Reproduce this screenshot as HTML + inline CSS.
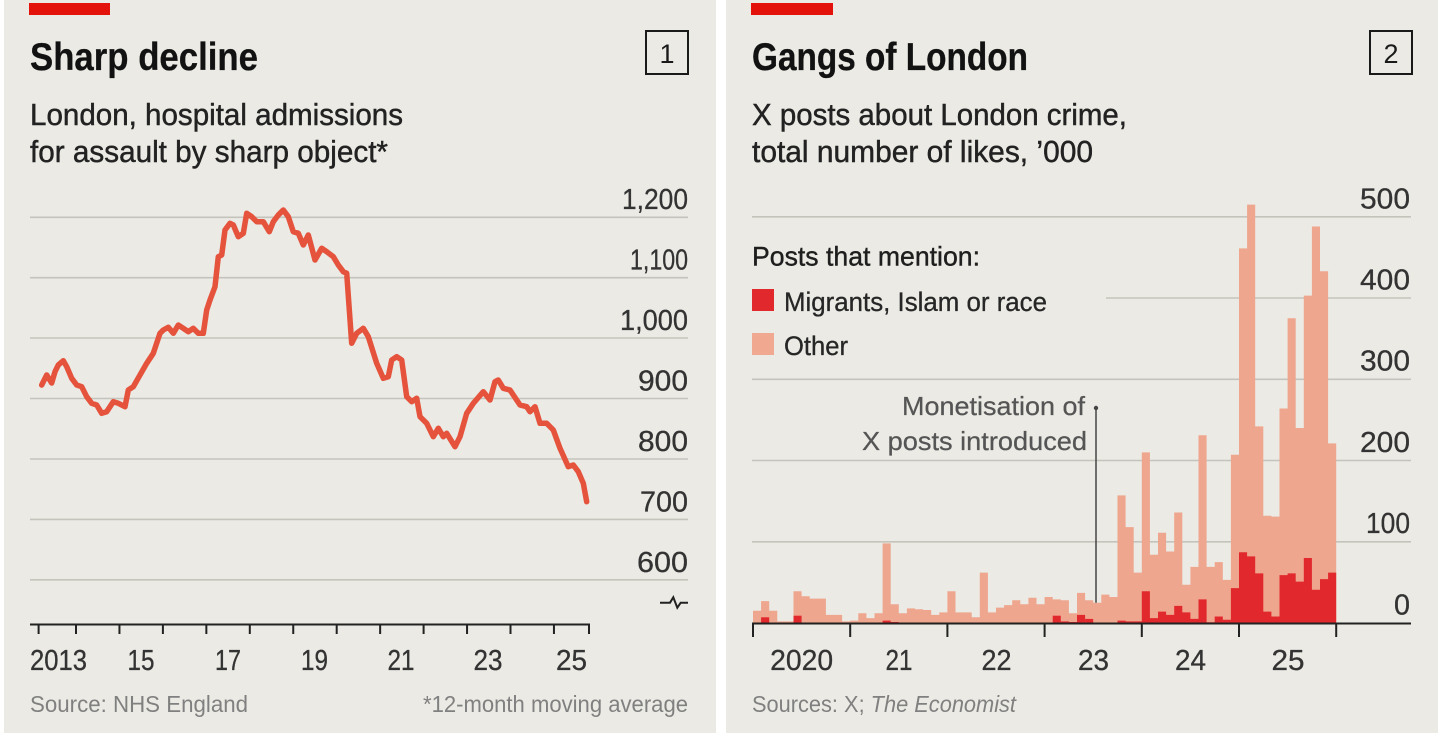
<!DOCTYPE html>
<html>
<head>
<meta charset="utf-8">
<style>
  html,body{margin:0;padding:0;background:#ffffff;}
  body{width:1438px;height:737px;overflow:hidden;}
  svg{display:block;}
</style>
</head>
<body>
<svg width="1438" height="737" viewBox="0 0 1438 737" xmlns="http://www.w3.org/2000/svg" font-family="'Liberation Sans', Arial, sans-serif">
  <!-- panels -->
  <rect x="4" y="0" width="712" height="733" fill="#ebeae4"/>
  <rect x="726" y="0" width="712" height="733" fill="#ebeae4"/>

  <!-- ================= LEFT CHART ================= -->
  <rect x="29" y="3" width="81" height="12" fill="#e3120b"/>
  <text x="30" y="70" font-size="39" font-weight="bold" fill="#121212" stroke="#121212" stroke-width="0.3" textLength="228" lengthAdjust="spacingAndGlyphs">Sharp decline</text>
  <rect x="646" y="31" width="42" height="43" fill="none" stroke="#1a1a1a" stroke-width="2"/>
  <text x="667" y="63" font-size="27" fill="#1a1a1a" text-anchor="middle">1</text>
  <g font-size="31" fill="#222" stroke="#222" stroke-width="0.45">
    <text x="30" y="125" textLength="373" lengthAdjust="spacingAndGlyphs">London, hospital admissions</text>
    <text x="30" y="162" textLength="358" lengthAdjust="spacingAndGlyphs">for assault by sharp object*</text>
  </g>

  <!-- gridlines -->
  <g stroke="#c4c3bc" stroke-width="1.6">
    <line x1="30" y1="217.3" x2="688" y2="217.3"/>
    <line x1="30" y1="277.7" x2="688" y2="277.7"/>
    <line x1="30" y1="338" x2="688" y2="338"/>
    <line x1="30" y1="398.5" x2="688" y2="398.5"/>
    <line x1="30" y1="459" x2="688" y2="459"/>
    <line x1="30" y1="519.4" x2="688" y2="519.4"/>
    <line x1="30" y1="579.8" x2="688" y2="579.8"/>
  </g>
  <!-- y labels -->
  <g font-size="29" fill="#333" stroke="#333" stroke-width="0.3" text-anchor="end">
    <text x="688" y="209" textLength="66" lengthAdjust="spacingAndGlyphs">1,200</text>
    <text x="688" y="269.5" textLength="58" lengthAdjust="spacingAndGlyphs">1,100</text>
    <text x="688" y="330" textLength="68" lengthAdjust="spacingAndGlyphs">1,000</text>
    <text x="688" y="390.5" textLength="50" lengthAdjust="spacingAndGlyphs">900</text>
    <text x="688" y="451" textLength="50" lengthAdjust="spacingAndGlyphs">800</text>
    <text x="688" y="511.5" textLength="48" lengthAdjust="spacingAndGlyphs">700</text>
    <text x="688" y="572" textLength="51" lengthAdjust="spacingAndGlyphs">600</text>
  </g>
  <!-- break symbol -->
  <path d="M660 602.7 H670 L673.3 597.3 L677.3 607.7 L680.7 602.7 H688" fill="none" stroke="#222" stroke-width="2" stroke-linejoin="miter"/>

  <!-- line series -->
  <polyline fill="none" stroke="#e5533d" stroke-width="5.5" stroke-linejoin="round" stroke-linecap="round"
    points="41.7,385 46.7,375 51.7,383 55,371.7 58.3,365 63.3,360.7 66.7,366.7 71.7,378.3 76.7,385 81.7,386.7 86.7,396.7 91.7,403.3 96.7,405 101.7,413.3 106.7,411.7 113.3,401.7 118.3,403.3 125,406.7 128.3,390 133.3,386.7 140,375 146.7,363.3 153.3,353.3 160,333.3 163.3,330 168.3,327.3 173.3,333.3 178.3,325 183.3,328.3 188.3,331.7 193.3,328.3 198.3,333.3 203.3,333.3 206.7,310 210,300 215,286.7 218.3,256.7 221.7,255 225,230 230,223.3 233.3,225 238.3,236.7 243.3,233.3 246.7,213.3 251.7,216.7 256.7,221.7 263.3,221.7 269.3,231.7 273.3,221.7 278.3,215 283.3,210 288.3,216.7 293.3,231.7 298.3,233.3 303.3,245 308.3,235 315,260 321.7,248.3 326.7,251.7 333.3,256.7 338.3,265 343.3,271.7 346.7,273.3 351.7,343.3 356.7,333.3 363.3,328.3 368.3,336.7 376.7,363.3 383.3,378.3 388.3,376.7 391.7,360 396.7,356.7 401.7,360 406.7,396.7 411.7,401.7 416.7,398.3 420,416.7 426.7,423.3 433.3,436.7 438.3,428.3 443.3,436.7 446.7,433.3 455,446.7 460,436.7 466.7,413.3 473.3,403.3 483.3,391.7 490,400 495,381.7 498.3,380 503.3,388.3 510,390 520,405 526.7,406.7 530,411.7 535,406.7 540,423.3 546.7,423.3 553.3,430 560,448.3 568.3,466.7 573.3,465 578.3,471.7 583.3,483.3 586.7,501.7"/>

  <!-- x axis -->
  <path d="M30 624.5 H590" stroke="#222" stroke-width="2" fill="none"/>
  <path d="M38.6 624 V634 M76 624 V634 M119.45 624 V634 M162.9 624 V634 M206.35 624 V634 M249.8 624 V634 M293.25 624 V634 M336.7 624 V634 M380.15 624 V634 M423.6 624 V634 M467.05 624 V634 M510.5 624 V634 M553.95 624 V634 M589 624 V634" stroke="#222" stroke-width="2" fill="none"/>
  <g font-size="29" fill="#333" stroke="#333" stroke-width="0.3">
    <text x="30" y="670" textLength="57" lengthAdjust="spacingAndGlyphs">2013</text>
    <text x="141" y="670" text-anchor="middle" textLength="27" lengthAdjust="spacingAndGlyphs">15</text>
    <text x="228" y="670" text-anchor="middle" textLength="26" lengthAdjust="spacingAndGlyphs">17</text>
    <text x="314.5" y="670" text-anchor="middle" textLength="27" lengthAdjust="spacingAndGlyphs">19</text>
    <text x="401" y="670" text-anchor="middle" textLength="27" lengthAdjust="spacingAndGlyphs">21</text>
    <text x="488" y="670" text-anchor="middle" textLength="29" lengthAdjust="spacingAndGlyphs">23</text>
    <text x="571.5" y="670" text-anchor="middle" textLength="31" lengthAdjust="spacingAndGlyphs">25</text>
  </g>
  <text x="30" y="712" font-size="23" fill="#808080" textLength="218" lengthAdjust="spacingAndGlyphs">Source: NHS England</text>
  <text x="688" y="712" font-size="23" fill="#808080" text-anchor="end" textLength="265" lengthAdjust="spacingAndGlyphs">*12-month moving average</text>

  <!-- ================= RIGHT CHART ================= -->
  <rect x="751" y="3" width="82" height="12" fill="#e3120b"/>
  <text x="752" y="70" font-size="39" font-weight="bold" fill="#121212" stroke="#121212" stroke-width="0.3" textLength="276" lengthAdjust="spacingAndGlyphs">Gangs of London</text>
  <rect x="1370" y="31" width="42" height="43" fill="none" stroke="#1a1a1a" stroke-width="2"/>
  <text x="1391" y="63" font-size="27" fill="#1a1a1a" text-anchor="middle">2</text>
  <g font-size="31" fill="#222" stroke="#222" stroke-width="0.45">
    <text x="752" y="125" textLength="375" lengthAdjust="spacingAndGlyphs">X posts about London crime,</text>
    <text x="752" y="162" textLength="341" lengthAdjust="spacingAndGlyphs">total number of likes, ’000</text>
  </g>

  <!-- gridlines -->
  <g stroke="#c4c3bc" stroke-width="1.6">
    <line x1="752" y1="216.8" x2="1411" y2="216.8"/>
    <line x1="1106" y1="298" x2="1411" y2="298"/>
    <line x1="752" y1="379.3" x2="1411" y2="379.3"/>
    <line x1="752" y1="460.5" x2="1411" y2="460.5"/>
    <line x1="752" y1="541.8" x2="1411" y2="541.8"/>
  </g>
  <!-- y labels -->
  <g font-size="29" fill="#333" stroke="#333" stroke-width="0.3" text-anchor="end">
    <text x="1410" y="208.3" textLength="50" lengthAdjust="spacingAndGlyphs">500</text>
    <text x="1410" y="289.5" textLength="50" lengthAdjust="spacingAndGlyphs">400</text>
    <text x="1410" y="370.7" textLength="50" lengthAdjust="spacingAndGlyphs">300</text>
    <text x="1410" y="451.9" textLength="50" lengthAdjust="spacingAndGlyphs">200</text>
    <text x="1410" y="533.1" textLength="44" lengthAdjust="spacingAndGlyphs">100</text>
    <text x="1410" y="614.3" textLength="16" lengthAdjust="spacingAndGlyphs">0</text>
  </g>

  <!-- legend -->
  <text x="752" y="265.5" font-size="27" fill="#1e1e1e" stroke="#1e1e1e" stroke-width="0.4" textLength="228" lengthAdjust="spacingAndGlyphs">Posts that mention:</text>
  <rect x="752" y="289" width="22" height="22" fill="#e1282d"/>
  <text x="784" y="311" font-size="27" fill="#262626" stroke="#262626" stroke-width="0.3" textLength="263" lengthAdjust="spacingAndGlyphs">Migrants, Islam or race</text>
  <rect x="752" y="333" width="22" height="22" fill="#f0a890"/>
  <text x="784" y="355" font-size="27" fill="#262626" stroke="#262626" stroke-width="0.3" textLength="64" lengthAdjust="spacingAndGlyphs">Other</text>

  <!-- bars: total (light) -->
  <path fill="#efa68e" d="M753 623 V610.8 H761.1 V601.1 H769.2 V610.8 H777.3 V621.4 H785.4 V621.4 H793.5 V591.3 H801.6 V596.2 H809.7 V598.6 H817.8 V598.6 H825.9 V614.9 H834 V614.9 H842.1 V621.4 H850.2 V620.6 H858.3 V613.25 H866.4 V618.1 H874.5 V613.25 H882.6 V543.4 H890.7 V604.3 H898.8 V613.25 H906.9 V608.4 H915 V609.2 H923.1 V610 H931.2 V614.9 H939.3 V612.4 H947.4 V591.3 H955.5 V612.4 H963.6 V612.4 H971.7 V617.3 H979.8 V572.6 H987.9 V612.4 H996 V607.6 H1004.1 V605.1 H1012.2 V600.25 H1020.3 V604.3 H1028.4 V597.8 H1036.5 V604.3 H1044.6 V597 H1052.7 V599.4 H1060.8 V600.25 H1068.9 V613.25 H1077 V592.9 H1085.1 V600.25 H1093.2 V602.7 H1101.3 V594.6 H1109.4 V597 H1117.5 V495.4 H1125.6 V527.1 H1133.7 V572.6 H1141.8 V452.4 H1149.9 V554.75 H1158 V532.8 H1166.1 V551.5 H1174.2 V512.5 H1182.3 V584.8 H1190.4 V566.9 H1198.5 V435.3 H1206.6 V566.9 H1214.7 V562.1 H1222.8 V579.9 H1230.9 V454.8 H1239 V248.4 H1247.1 V204.6 H1255.2 V426.4 H1263.3 V515.75 H1271.4 V516.6 H1279.5 V408.5 H1287.6 V318.3 H1295.7 V428 H1303.8 V295.6 H1311.9 V226.5 H1320 V271.2 H1328.1 V443.4 H1336.2 V623 Z"/>
  <!-- bars: migrants (dark) -->
  <g fill="#e1282d">
    <rect x="761.1" y="617.3" width="8.1" height="5.7"/>
    <rect x="793.5" y="615.7" width="8.1" height="7.3"/>
    <rect x="882.6" y="620.6" width="8.1" height="2.4"/>
    <rect x="890.7" y="622" width="8.1" height="1"/>
    <rect x="1052.7" y="615.7" width="8.1" height="7.3"/>
    <rect x="1060.8" y="621.4" width="8.1" height="1.6"/>
    <rect x="1068.9" y="622" width="8.1" height="1"/>
    <rect x="1077" y="614.9" width="8.1" height="8.1"/>
    <rect x="1085.1" y="618.9" width="8.1" height="4.1"/>
    <path d="M1117.5 623 V620.6 H1125.6 V621.4 H1133.7 V621.4 H1141.8 V591.3 H1149.9 V618.1 H1158 V611.6 H1166.1 V614.9 H1174.2 V605.9 H1182.3 V612.4 H1190.4 V618.9 H1198.5 V599.4 H1206.6 V622.2 H1214.7 V616.5 H1222.8 V619.75 H1230.9 V588.1 H1239 V552.3 H1247.1 V556.4 H1255.2 V573.4 H1263.3 V611.6 H1271.4 V616.5 H1279.5 V575.1 H1287.6 V573.4 H1295.7 V581.6 H1303.8 V558 H1311.9 V589.7 H1320 V579.1 H1328.1 V572.6 H1336.2 V623 Z"/>
  </g>

  <!-- annotation -->
  <line x1="1096" y1="408" x2="1096" y2="602.7" stroke="#444" stroke-width="1.5"/>
  <circle cx="1096" cy="408" r="2.2" fill="#444"/>
  <g font-size="26" fill="#555" stroke="#555" stroke-width="0.25" text-anchor="end">
    <text x="1085" y="415" textLength="183" lengthAdjust="spacingAndGlyphs">Monetisation of</text>
    <text x="1087" y="450" textLength="225" lengthAdjust="spacingAndGlyphs">X posts introduced</text>
  </g>

  <!-- x axis -->
  <path d="M752 623.5 H1411" stroke="#222" stroke-width="2" fill="none"/>
  <path d="M753 623 V637 M850.2 623 V637 M947.4 623 V637 M1044.6 623 V637 M1141.8 623 V637 M1239 623 V637 M1336.2 623 V637" stroke="#222" stroke-width="2" fill="none"/>
  <g font-size="29" fill="#333" stroke="#333" stroke-width="0.3" text-anchor="middle">
    <text x="801.6" y="670" textLength="63" lengthAdjust="spacingAndGlyphs">2020</text>
    <text x="899" y="670" textLength="27" lengthAdjust="spacingAndGlyphs">21</text>
    <text x="996.5" y="670" textLength="30" lengthAdjust="spacingAndGlyphs">22</text>
    <text x="1093.5" y="670" textLength="31" lengthAdjust="spacingAndGlyphs">23</text>
    <text x="1190.5" y="670" textLength="31" lengthAdjust="spacingAndGlyphs">24</text>
    <text x="1288" y="670" textLength="33" lengthAdjust="spacingAndGlyphs">25</text>
  </g>
  <text x="752" y="712" font-size="23" fill="#808080" textLength="264" lengthAdjust="spacingAndGlyphs">Sources: X; <tspan font-style="italic">The Economist</tspan></text>
</svg>
</body>
</html>
